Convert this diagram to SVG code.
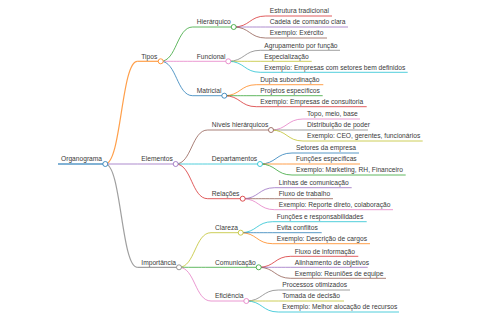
<svg xmlns="http://www.w3.org/2000/svg" width="480" height="320" viewBox="0 0 480 320">
<style>
text{font-family:"Liberation Sans",Arial,sans-serif;font-size:6.67px;fill:#3a3a3a}
path,line{fill:none;stroke-width:1;stroke-opacity:0.75}
circle{fill:#fff;stroke-width:1;stroke-opacity:0.8}
.w2{stroke-width:1.6}
.w1{stroke-width:1.2}
.c0{stroke:#1f77b4}.c1{stroke:#ff7f0e}.c2{stroke:#2ca02c}.c3{stroke:#d62728}.c4{stroke:#9467bd}
.c5{stroke:#8c564b}.c6{stroke:#e377c2}.c7{stroke:#7f7f7f}.c8{stroke:#bcbd22}.c9{stroke:#17becf}
</style>
<rect width="480" height="320" fill="#fff"/>
<g id="connectors">
<path class="c1 w1" d="M105.3 164 C121.3 164 121.3 61.3 137.3 61.3"/>
<path class="c4 w1" d="M105.3 164 C121.3 164 121.3 164 137.3 164"/>
<path class="c7 w1" d="M105.3 164 C121.3 164 121.3 267.3 137.3 267.3"/>
<path class="c2" d="M160.7 61.3 C176.7 61.3 176.7 27 192.7 27"/>
<path class="c6" d="M160.7 61.3 C176.7 61.3 176.7 61.3 192.7 61.3"/>
<path class="c0" d="M160.7 61.3 C176.7 61.3 176.7 95.7 192.7 95.7"/>
<path class="c5" d="M175.7 164 C191.7 164 191.7 130 207.7 130"/>
<path class="c9" d="M175.7 164 C191.7 164 191.7 164 207.7 164"/>
<path class="c3" d="M175.7 164 C191.7 164 191.7 198.7 207.7 198.7"/>
<path class="c8" d="M179 267.3 C195 267.3 195 232.7 211 232.7"/>
<path class="c2" d="M179 267.3 C195 267.3 195 267.3 211 267.3"/>
<path class="c6" d="M179 267.3 C195 267.3 195 301 211 301"/>
<path class="c3" d="M233.7 27 C249.7 27 249.7 16 265.7 16"/>
<path class="c4" d="M233.7 27 C249.7 27 249.7 27 265.7 27"/>
<path class="c5" d="M233.7 27 C249.7 27 249.7 38 265.7 38"/>
<path class="c7" d="M228.3 61.3 C244.3 61.3 244.3 50.3 260.3 50.3"/>
<path class="c8" d="M228.3 61.3 C244.3 61.3 244.3 61.3 260.3 61.3"/>
<path class="c9" d="M228.3 61.3 C244.3 61.3 244.3 72.3 260.3 72.3"/>
<path class="c1" d="M224.3 95.7 C240.3 95.7 240.3 84.7 256.3 84.7"/>
<path class="c2" d="M224.3 95.7 C240.3 95.7 240.3 95.7 256.3 95.7"/>
<path class="c3" d="M224.3 95.7 C240.3 95.7 240.3 106.7 256.3 106.7"/>
<path class="c6" d="M271 130 C287 130 287 119 303 119"/>
<path class="c7" d="M271 130 C287 130 287 130 303 130"/>
<path class="c8" d="M271 130 C287 130 287 141 303 141"/>
<path class="c0" d="M260 164 C276 164 276 153 292 153"/>
<path class="c1" d="M260 164 C276 164 276 164 292 164"/>
<path class="c2" d="M260 164 C276 164 276 175 292 175"/>
<path class="c4" d="M242.7 198.7 C258.7 198.7 258.7 187.7 274.7 187.7"/>
<path class="c5" d="M242.7 198.7 C258.7 198.7 258.7 198.7 274.7 198.7"/>
<path class="c6" d="M242.7 198.7 C258.7 198.7 258.7 209.7 274.7 209.7"/>
<path class="c9" d="M240.7 232.7 C256.7 232.7 256.7 221.7 272.7 221.7"/>
<path class="c0" d="M240.7 232.7 C256.7 232.7 256.7 232.7 272.7 232.7"/>
<path class="c1" d="M240.7 232.7 C256.7 232.7 256.7 243.7 272.7 243.7"/>
<path class="c3" d="M258.7 267.3 C274.7 267.3 274.7 256.3 290.7 256.3"/>
<path class="c4" d="M258.7 267.3 C274.7 267.3 274.7 267.3 290.7 267.3"/>
<path class="c5" d="M258.7 267.3 C274.7 267.3 274.7 278.3 290.7 278.3"/>
<path class="c7" d="M246.3 301 C262.3 301 262.3 290 278.3 290"/>
<path class="c8" d="M246.3 301 C262.3 301 262.3 301 278.3 301"/>
<path class="c9" d="M246.3 301 C262.3 301 262.3 312 278.3 312"/>
</g>
<g id="n-organograma"><line class="c0 w2" x1="58" y1="164" x2="105.3" y2="164"/><circle class="c0" cx="105.3" cy="164" r="2.5"/><text x="61" y="161.4">Organograma</text></g>
<g id="n-tipos"><line class="c1 w1" x1="137.3" y1="61.3" x2="160.7" y2="61.3"/><circle class="c1" cx="160.7" cy="61.3" r="2.5"/><text x="141.3" y="58.7">Tipos</text></g>
<g id="n-elementos"><line class="c4 w1" x1="137.3" y1="164" x2="175.7" y2="164"/><circle class="c4" cx="175.7" cy="164" r="2.5"/><text x="141.3" y="161.4">Elementos</text></g>
<g id="n-importancia"><line class="c7 w1" x1="137.3" y1="267.3" x2="179" y2="267.3"/><circle class="c7" cx="179" cy="267.3" r="2.5"/><text x="141.3" y="264.7">Importância</text></g>
<g id="n-hierarquico"><line class="c2" x1="192.7" y1="27" x2="233.7" y2="27"/><circle class="c2" cx="233.7" cy="27" r="2.5"/><text x="196.7" y="24.4">Hierárquico</text></g>
<g id="n-funcional"><line class="c6" x1="192.7" y1="61.3" x2="228.3" y2="61.3"/><circle class="c6" cx="228.3" cy="61.3" r="2.5"/><text x="196.7" y="58.7">Funcional</text></g>
<g id="n-matricial"><line class="c0" x1="192.7" y1="95.7" x2="224.3" y2="95.7"/><circle class="c0" cx="224.3" cy="95.7" r="2.5"/><text x="196.7" y="93.1">Matricial</text></g>
<g id="n-niveis"><line class="c5" x1="207.7" y1="130" x2="271" y2="130"/><circle class="c5" cx="271" cy="130" r="2.5"/><text x="211.7" y="127.4">Níveis hierárquicos</text></g>
<g id="n-departamentos"><line class="c9" x1="207.7" y1="164" x2="260" y2="164"/><circle class="c9" cx="260" cy="164" r="2.5"/><text x="211.7" y="161.4">Departamentos</text></g>
<g id="n-relacoes"><line class="c3" x1="207.7" y1="198.7" x2="242.7" y2="198.7"/><circle class="c3" cx="242.7" cy="198.7" r="2.5"/><text x="211.7" y="196.1">Relações</text></g>
<g id="n-clareza"><line class="c8" x1="211" y1="232.7" x2="240.7" y2="232.7"/><circle class="c8" cx="240.7" cy="232.7" r="2.5"/><text x="215" y="230.1">Clareza</text></g>
<g id="n-comunicacao"><line class="c2" x1="211" y1="267.3" x2="258.7" y2="267.3"/><circle class="c2" cx="258.7" cy="267.3" r="2.5"/><text x="215" y="264.7">Comunicação</text></g>
<g id="n-eficiencia"><line class="c6" x1="211" y1="301" x2="246.3" y2="301"/><circle class="c6" cx="246.3" cy="301" r="2.5"/><text x="215" y="298.4">Eficiência</text></g>
<g id="n-estrutura"><line class="c3" x1="265.7" y1="16" x2="332" y2="16"/><text x="269.7" y="13.4">Estrutura tradicional</text></g>
<g id="n-cadeia"><line class="c4" x1="265.7" y1="27" x2="348" y2="27"/><text x="269.7" y="24.4">Cadeia de comando clara</text></g>
<g id="n-exercito"><line class="c5" x1="265.7" y1="38" x2="327" y2="38"/><text x="269.7" y="35.4">Exemplo: Exército</text></g>
<g id="n-agrupamento"><line class="c7" x1="260.3" y1="50.3" x2="340" y2="50.3"/><text x="264.3" y="47.7">Agrupamento por função</text></g>
<g id="n-especializacao"><line class="c8" x1="260.3" y1="61.3" x2="311.7" y2="61.3"/><text x="264.3" y="58.7">Especialização</text></g>
<g id="n-ex-setores"><line class="c9" x1="260.3" y1="72.3" x2="407.7" y2="72.3"/><text x="264.3" y="69.7">Exemplo: Empresas com setores bem definidos</text></g>
<g id="n-dupla"><line class="c1" x1="256.3" y1="84.7" x2="323.3" y2="84.7"/><text x="260.3" y="82.1">Dupla subordinação</text></g>
<g id="n-projetos"><line class="c2" x1="256.3" y1="95.7" x2="322.7" y2="95.7"/><text x="260.3" y="93.1">Projetos específicos</text></g>
<g id="n-ex-consultoria"><line class="c3" x1="256.3" y1="106.7" x2="366.7" y2="106.7"/><text x="260.3" y="104.1">Exemplo: Empresas de consultoria</text></g>
<g id="n-topo"><line class="c6" x1="303" y1="119" x2="360" y2="119"/><text x="307" y="116.4">Topo, meio, base</text></g>
<g id="n-distribuicao"><line class="c7" x1="303" y1="130" x2="368" y2="130"/><text x="307" y="127.4">Distribuição de poder</text></g>
<g id="n-ex-ceo"><line class="c8" x1="303" y1="141" x2="422.7" y2="141"/><text x="307" y="138.4">Exemplo: CEO, gerentes, funcionários</text></g>
<g id="n-setores"><line class="c0" x1="292" y1="153" x2="359" y2="153"/><text x="296" y="150.4">Setores da empresa</text></g>
<g id="n-funcoes"><line class="c1" x1="292" y1="164" x2="360" y2="164"/><text x="296" y="161.4">Funções específicas</text></g>
<g id="n-ex-marketing"><line class="c2" x1="292" y1="175" x2="405.7" y2="175"/><text x="296" y="172.4">Exemplo: Marketing, RH, Financeiro</text></g>
<g id="n-linhas"><line class="c4" x1="274.7" y1="187.7" x2="351.7" y2="187.7"/><text x="278.7" y="185.1">Linhas de comunicação</text></g>
<g id="n-fluxo-trabalho"><line class="c5" x1="274.7" y1="198.7" x2="333" y2="198.7"/><text x="278.7" y="196.1">Fluxo de trabalho</text></g>
<g id="n-ex-reporte"><line class="c6" x1="274.7" y1="209.7" x2="393" y2="209.7"/><text x="278.7" y="207.1">Exemplo: Reporte direto, colaboração</text></g>
<g id="n-funcoes-resp"><line class="c9" x1="272.7" y1="221.7" x2="366.7" y2="221.7"/><text x="276.7" y="219.1">Funções e responsabilidades</text></g>
<g id="n-evita"><line class="c0" x1="272.7" y1="232.7" x2="321.7" y2="232.7"/><text x="276.7" y="230.1">Evita conflitos</text></g>
<g id="n-ex-descricao"><line class="c1" x1="272.7" y1="243.7" x2="370" y2="243.7"/><text x="276.7" y="241.1">Exemplo: Descrição de cargos</text></g>
<g id="n-fluxo-info"><line class="c3" x1="290.7" y1="256.3" x2="358.3" y2="256.3"/><text x="294.7" y="253.7">Fluxo de informação</text></g>
<g id="n-alinhamento"><line class="c4" x1="290.7" y1="267.3" x2="367.7" y2="267.3"/><text x="294.7" y="264.7">Alinhamento de objetivos</text></g>
<g id="n-ex-reunioes"><line class="c5" x1="290.7" y1="278.3" x2="386" y2="278.3"/><text x="294.7" y="275.7">Exemplo: Reuniões de equipe</text></g>
<g id="n-processos"><line class="c7" x1="278.3" y1="290" x2="350" y2="290"/><text x="282.3" y="287.4">Processos otimizados</text></g>
<g id="n-tomada"><line class="c8" x1="278.3" y1="301" x2="344" y2="301"/><text x="282.3" y="298.4">Tomada de decisão</text></g>
<g id="n-ex-melhor"><line class="c9" x1="278.3" y1="312" x2="399" y2="312"/><text x="282.3" y="309.4">Exemplo: Melhor alocação de recursos</text></g>
</svg>
